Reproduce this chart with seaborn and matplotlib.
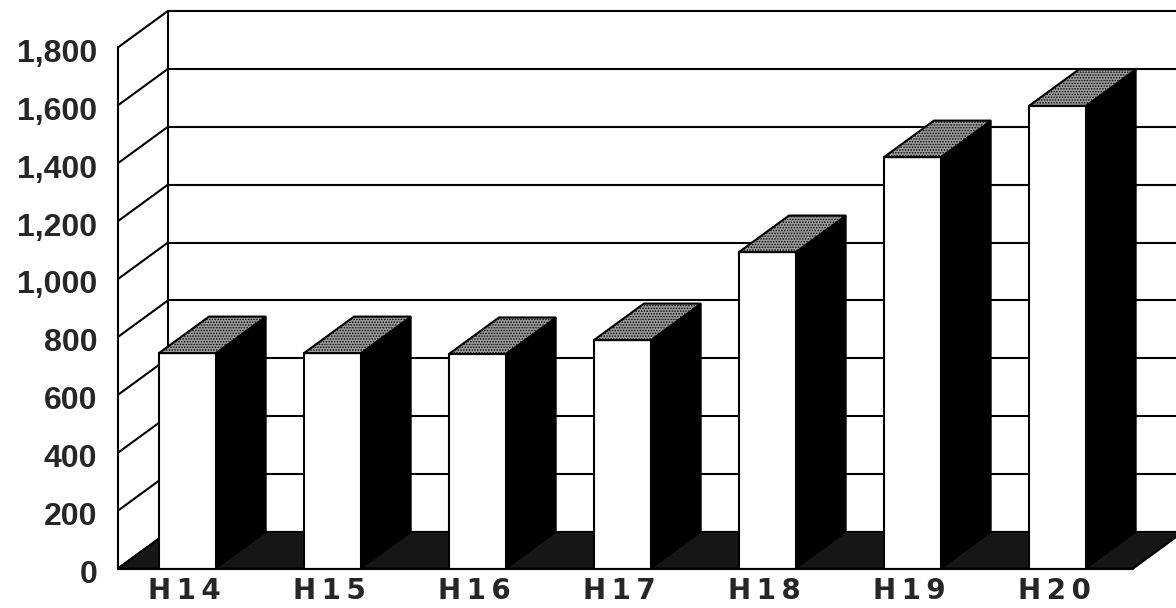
import matplotlib
matplotlib.use("Agg")
import matplotlib.pyplot as plt
from matplotlib.patches import Polygon
from matplotlib.transforms import ScaledTranslation
import numpy as np
import pandas as pd
import seaborn as sns

# Data
years = ["H14", "H15", "H16", "H17", "H18", "H19", "H20"]
counts = [744, 744, 741, 789, 1093, 1421, 1598]
yticks = [0, 200, 400, 600, 800, 1000, 1200, 1400, 1600, 1800]
ytick_labels = ["0", "200", "400", "600", "800", "1,000", "1,200", "1,400", "1,600", "1,800"]

sns.set_style("white")
plt.rcParams["font.family"] = ["DejaVu Sans"]
plt.rcParams["hatch.linewidth"] = 0.7

W, H = 1176, 608
fig = plt.figure(figsize=(W / 100, H / 100), dpi=100)

# Pixel geometry of the front plane
px_per_cat = 145.0
px_per_unit = 0.2895
left_px, floor_px = 118, 568.5
ax = fig.add_axes([left_px / W, (H - floor_px) / H, 1 - left_px / W, floor_px / H])

XL = -69.5 / px_per_cat           # front-left corner of the plot box
XR = XL + len(years)              # front-right corner
xmax = XL + (W - left_px) / px_per_cat
ymax = floor_px / px_per_unit
DX = 50 / px_per_cat              # depth offset (x)
DY = 36.5 / px_per_unit           # depth offset (y)
bar_w = 57 / px_per_cat

df = pd.DataFrame({"year": years, "count": counts})
sns.barplot(data=df, x="year", y="count", order=years, width=bar_w,
            color="white", saturation=1, edgecolor="black", linewidth=1.5,
            ax=ax, zorder=5)

lw = 1.5
# Back wall gridlines and left edge
for v in yticks:
    ax.plot([XL + DX, xmax + 1], [v + DY, v + DY], color="black", lw=lw, zorder=1,
            solid_capstyle="butt")
ax.plot([XL + DX, XL + DX], [DY, yticks[-1] + DY], color="black", lw=lw, zorder=1)

# Left side wall diagonals
for v in yticks:
    ax.plot([XL, XL + DX], [v, v + DY], color="black", lw=lw, zorder=2)

# Floor
floor = Polygon([(XL, 0), (XR, 0), (XR + DX, DY), (XL + DX, DY)],
                closed=True, facecolor="#161616", edgecolor="black", lw=lw, zorder=3)
ax.add_patch(floor)

# Side and top faces of each bar
for bar in list(ax.patches):
    if bar is floor:
        continue
    x0 = bar.get_x()
    x1 = x0 + bar.get_width()
    h = bar.get_height()
    side = Polygon([(x1, 0), (x1 + DX, DY), (x1 + DX, h + DY), (x1, h)],
                   closed=True, facecolor="black", edgecolor="black", lw=1, zorder=4)
    ax.add_patch(side)
    top = Polygon([(x0, h), (x1, h), (x1 + DX, h + DY), (x0 + DX, h + DY)],
                  closed=True, facecolor="#9a9a9a", edgecolor="black", hatch="......",
                  lw=lw, zorder=6)
    ax.add_patch(top)

ax.set_xlim(XL, xmax)
ax.set_ylim(0, ymax)
ax.set_xlabel("")
ax.set_ylabel("")

for s in ["top", "right"]:
    ax.spines[s].set_visible(False)
ax.spines["left"].set_bounds(0, yticks[-1])
ax.spines["bottom"].set_bounds(XL, XR)
for s in ["left", "bottom"]:
    ax.spines[s].set_color("black")
    ax.spines[s].set_linewidth(lw)
    ax.spines[s].set_zorder(7)

ax.set_yticks(yticks)
ax.set_yticklabels(ytick_labels, fontfamily="Liberation Sans", fontweight="bold",
                   fontsize=23)
ax.tick_params(axis="y", direction="in", length=6, width=lw, color="black", pad=15)

# Category labels, letter-spaced with thin spaces
spaced = ["\u2009".join(list(y)) for y in years]
ax.set_xticks(range(len(years)))
ax.set_xticklabels(spaced, fontfamily="DejaVu Sans", fontweight="bold", fontsize=20)
ax.tick_params(axis="x", length=0, pad=6)

shift = ScaledTranslation(0, -3 / 100, fig.dpi_scale_trans)
for lab in ax.get_yticklabels():
    lab.set_transform(lab.get_transform() + shift)
xshift = ScaledTranslation(-3 / 100, 0, fig.dpi_scale_trans)
for lab in ax.get_xticklabels():
    lab.set_transform(lab.get_transform() + xshift)

fig.savefig("out.png", dpi=100, facecolor="white")
